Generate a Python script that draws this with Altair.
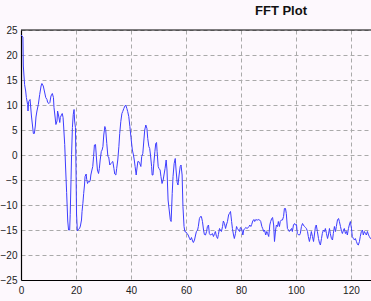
import altair as alt
import pandas as pd

# Frequency bins (x) and magnitude in dB (y)
freq = [
    0.0, 0.7, 0.85, 1.3, 1.7, 1.95, 2.4, 2.55, 2.8, 3.3, 3.5, 3.8, 4.2, 4.5, 4.85, 5.2, 5.45, 5.8,
    6.3, 6.8, 7.3, 7.6, 8.1, 8.5, 9.0, 9.45, 9.7, 10.2, 10.5, 10.9, 11.4, 11.8, 12.0, 12.4, 12.7,
    13.1, 13.3, 13.7, 14.1, 14.3, 14.7, 15.0, 15.3, 15.5, 15.9, 16.2, 16.6, 17.0, 17.3, 17.7, 17.9,
    18.2, 18.4, 18.7, 19.0, 19.3, 19.5, 19.8, 20.0, 20.2, 20.5, 20.8,
    21.3, 21.6, 22.0, 22.2, 22.5, 22.8, 23.1, 23.3, 23.7, 23.9, 24.2, 24.5, 24.9, 25.2, 25.4, 25.8,
    26.1, 26.4, 26.7, 27.1, 27.5, 27.8, 28.2, 28.5, 28.8, 29.2, 29.5, 29.8, 30.1, 30.5, 30.8, 31.2,
    31.6, 31.9, 32.3, 32.7, 33.0, 33.4, 33.8, 34.1, 34.5, 34.8, 35.2, 35.6, 35.9, 36.3, 36.7, 37.0,
    37.4, 37.8, 38.1, 38.5, 38.8, 39.2, 39.6,
    40.0, 40.5, 40.9, 41.2, 41.5, 41.9, 42.1, 42.5, 42.8, 43.2, 43.6, 43.9, 44.3, 44.7, 45.0, 45.4,
    45.8, 46.1, 46.5, 46.8, 47.1, 47.5, 47.7, 48.0, 48.3, 48.7, 49.0, 49.3, 49.5, 49.9, 50.2, 50.6,
    50.9, 51.3, 51.7, 52.0, 52.4, 52.8, 53.1, 53.5, 53.9, 54.3, 54.6, 55.0, 55.3, 55.7, 56.1, 56.4,
    56.8, 57.1, 57.5, 57.9, 58.2, 58.6, 58.9, 59.3, 59.6,
    60.0, 60.4, 60.8, 61.3, 61.6, 62.0, 62.4, 62.7, 63.1, 63.5, 63.8, 64.2, 64.5, 64.9, 65.3, 65.6,
    66.0, 66.4, 66.7, 67.1, 67.5, 67.8, 68.2, 68.5, 68.9, 69.3, 69.6, 70.0, 70.4, 70.7, 71.1, 71.5,
    71.8, 72.2, 72.5, 72.9, 73.3, 73.6, 74.0, 74.4, 74.7, 75.1, 75.5, 75.8, 76.2, 76.6, 76.9, 77.3,
    77.6, 78.0, 78.4, 78.7, 79.1, 79.5, 79.8, 80.2, 80.7, 81.0, 81.4, 81.8, 82.2, 82.6, 83.0, 83.2,
    83.6, 83.9, 84.3, 84.7, 85.0, 85.4, 85.8, 86.1, 86.5, 86.8, 87.2, 87.6, 87.9, 88.3, 88.6, 89.0,
    89.4, 89.7, 90.1, 90.5, 90.8, 91.2, 91.5, 91.9,
    92.2, 92.6, 92.9, 93.3, 93.6, 94.0, 94.3, 94.7, 95.1, 95.5, 95.8, 96.2, 96.5, 96.9, 97.3, 97.6,
    98.0, 98.4, 98.7, 99.1, 99.5, 99.8, 100.2, 100.5, 101.0, 101.3, 101.6, 102.0, 102.4, 102.7,
    103.1, 103.5, 103.8, 104.2, 104.5, 104.9, 105.3, 105.6, 106.0, 106.4, 106.7, 107.1, 107.4,
    107.8, 108.2, 108.6, 108.9, 109.3, 109.6, 110.0, 110.4, 110.7, 111.1, 111.5, 111.8, 112.2,
    112.5, 112.9, 113.3, 113.6, 114.0, 114.4, 114.7, 115.1, 115.5, 115.8, 116.2, 116.6, 116.9,
    117.3, 117.6, 118.0, 118.4, 118.7, 119.1, 119.4, 119.8, 120.2, 120.5, 120.9, 121.3, 121.6,
    122.0, 122.4, 122.7, 123.1, 123.4, 123.8, 124.2, 124.5, 124.9, 125.3, 125.6, 126.0, 126.4,
    126.7, 127.1, 127.5,
]
mag = [
    24.0, 23.6, 17.8, 14.1, 12.8, 11.5, 10.1, 8.8, 10.7, 11.1, 9.8, 7.8, 5.8, 4.3, 4.3, 5.8, 7.6, 8.8,
    10.1, 12.1, 13.8, 14.3, 13.8, 12.8, 11.5, 11.1, 10.5, 10.3, 10.5, 11.8, 12.3, 11.5, 9.5, 7.6, 6.1,
    6.8, 8.8, 7.8, 6.5, 7.5, 8.0, 8.3, 7.5, 5.8, 2.1, -2.2, -7.5, -13.2, -15.0, -15.0, -11.9,
    -4.9, 0.1, 5.5, 8.1, 9.1, 6.8, 5.5, -2.5, -11.8, -15.2, -14.9,
    -14.7, -14.2, -13.0, -11.3, -9.7, -7.7, -6.0, -4.3, -3.8, -4.9, -5.7, -5.3, -5.4, -5.0, -4.0, -3.0,
    -2.3, -0.3, 2.0, 2.1, -1.0, -3.0, -3.7, -2.7, -1.0, 0.7, 1.0, 1.7, 4.0, 5.7, 5.1, 2.3,
    -0.3, -0.4, -2.0, -1.7, -1.5, -1.3, -2.7, -3.8, -4.0, -2.7, -1.0, 1.7, 4.3, 6.7, 8.3, 8.7,
    9.3, 9.8, 10.0, 9.3, 8.7, 7.7, 5.7,
    3.5, 1.0, 0.0, -1.0, -2.3, -4.0, -3.0, -1.3, -1.3, -1.7, -2.3, -0.3, 0.3, 3.0, 5.0, 6.0,
    5.3, 3.3, 1.7, 1.3, 0.0, -2.3, -4.0, -4.0, -1.7, 0.7, 2.3, 2.5, 0.7, -2.3, -2.7, -3.0,
    -4.3, -5.7, -5.0, -4.0, -2.7, -1.0, -3.0, -9.0, -11.0, -12.9, -13.3, -7.7, -4.3, -1.7, -0.7, -3.0,
    -5.5, -6.0, -4.0, -2.3, -2.0, -4.0, -10.3, -14.3, -15.3,
    -15.4, -15.7, -16.0, -16.7, -17.0, -16.5, -17.2, -17.5, -17.0, -16.0, -15.3, -15.1, -14.3, -12.7, -12.3, -12.3,
    -13.3, -15.0, -15.9, -16.0, -15.3, -14.3, -14.0, -15.7, -16.0, -15.9, -15.7, -16.3, -15.7, -15.3, -16.3, -16.7,
    -15.9, -14.7, -15.0, -15.3, -14.3, -13.2, -13.7, -14.7, -14.0, -13.3, -12.0, -11.7, -11.3, -13.3, -14.7, -16.0,
    -16.7, -15.7, -14.3, -14.7, -15.0, -15.3, -14.5, -14.7, -16.0, -15.0, -14.7, -14.5, -14.7, -14.5, -14.3, -14.0,
    -14.3, -13.9, -13.2, -12.9, -13.3, -12.9, -13.0, -13.0, -12.9, -13.0, -13.3, -14.3, -14.7, -15.3, -15.0, -16.0,
    -15.3, -15.7, -16.3, -14.0, -13.3, -12.7, -12.5, -14.0,
    -17.3, -15.0, -14.0, -14.3, -13.3, -14.3, -13.3, -13.0, -13.0, -12.3, -10.7, -10.7, -11.7, -14.7, -15.0, -15.3,
    -15.0, -14.7, -15.3, -14.0, -13.7, -14.0, -13.9, -15.7, -16.0, -16.0, -15.7, -14.3, -13.7, -14.0,
    -14.3, -14.5, -14.7, -15.3, -16.3, -17.3, -16.3, -15.3, -16.3, -17.3, -16.0, -14.3, -14.0,
    -15.3, -16.7, -17.7, -18.0, -16.7, -15.7, -15.0, -15.3, -14.7, -15.7, -16.7, -16.0, -14.7,
    -15.7, -16.7, -17.0, -15.7, -14.3, -15.3, -14.3, -13.0, -12.7, -13.3, -14.3, -15.3, -15.7,
    -15.0, -14.7, -15.7, -15.3, -16.0, -14.7, -14.0, -13.3, -14.7, -16.3, -16.7, -17.0, -16.7,
    -17.3, -17.9, -18.0, -17.3, -16.3, -15.3, -15.0, -16.0, -15.3, -15.7, -16.0, -15.3, -16.0,
    -16.3, -16.7, -16.5,
]

x_ticks = [0, 20, 40, 60, 80, 100, 120]
y_ticks = [-25, -20, -15, -10, -5, 0, 5, 10, 15, 20, 25]
title_text = ["FFT Plot"]

df = pd.DataFrame({"freq": freq, "mag": mag})

x_scale = alt.Scale(domain=[0, 127.3], nice=False, zero=False)
y_scale = alt.Scale(domain=[-25, 25], nice=False)

axis_common = dict(title=None, grid=True, gridDash=[4, 3], gridColor="#aaaaaa",
                   domainColor="#000000", domainWidth=1.2, ticks=False,
                   labelFontSize=10, labelFont="Liberation Sans", labelColor="#222222",
                   labelOverlap=False, labelFlush=False)

line = alt.Chart(df).mark_line(color="#3d3dff", strokeWidth=1, clip=True).encode(
    x=alt.X("freq:Q", scale=x_scale,
            axis=alt.Axis(values=x_ticks, tickCount=len(x_ticks), labelPadding=5, **axis_common)),
    y=alt.Y("mag:Q", scale=y_scale,
            axis=alt.Axis(values=y_ticks, tickCount=len(y_ticks), labelPadding=4, **axis_common)),
)

top_rule = alt.Chart(pd.DataFrame({"v": [25]})).mark_rule(color="#000000", strokeWidth=1.2).encode(
    y=alt.Y("v:Q", scale=y_scale)
)

title = alt.Chart(pd.DataFrame({"t": title_text})).mark_text(
    font="Liberation Sans", fontSize=13, fontWeight="bold", color="#111111",
    align="center", baseline="middle"
).encode(text="t:N", x=alt.value(260), y=alt.value(-19.5))

chart = alt.layer(line, top_rule, title).properties(
    width=350, height=250,
    autosize=alt.AutoSizeParams(type="none"),
    padding={"left": 21, "top": 30, "right": 0, "bottom": 21},
    background="#fdf8fd",
).configure_view(stroke=None)

chart.save("out.html", embed_options={"renderer": "svg", "actions": False})
